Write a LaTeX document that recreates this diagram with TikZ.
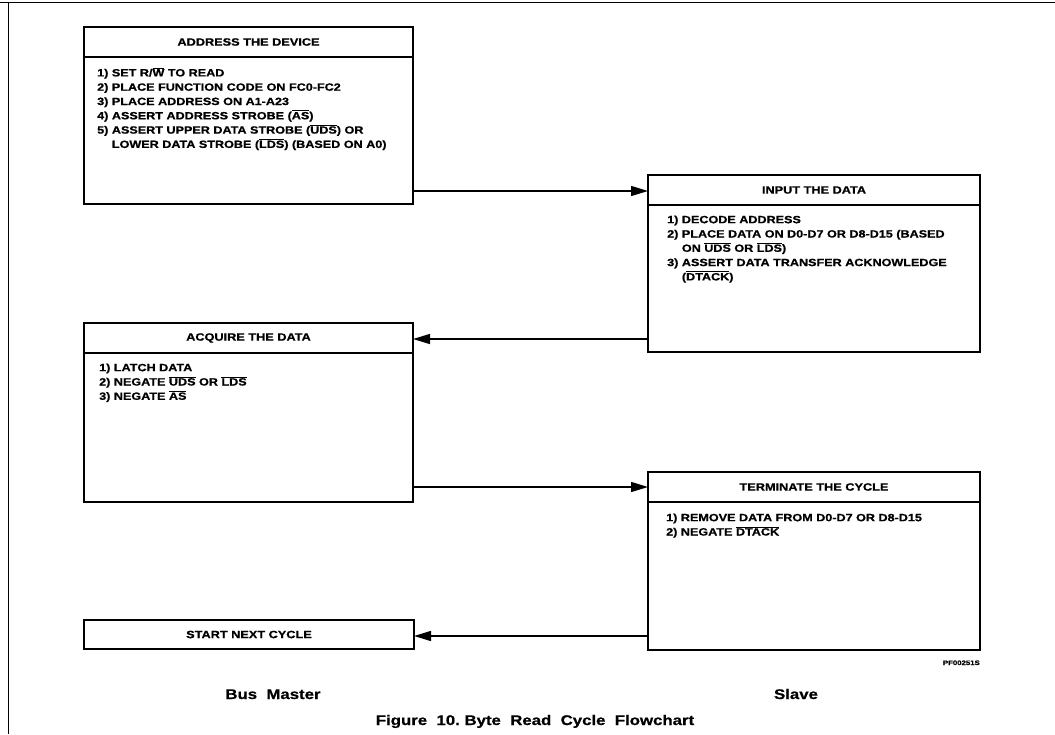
\documentclass[tikz,border=0pt]{standalone}
\usepackage{fontspec}
\usetikzlibrary{arrows.meta,calc}
\newfontfamily\hb{Liberation Sans}[FakeStretch=1.2,FakeBold=0.8]
\newcommand{\ovl}[1]{$\overline{\mbox{#1}}$}
\newcommand{\topstrut}{\rule{0pt}{9pt}}
\begin{document}
\begin{tikzpicture}[x=1pt,y=-1pt,
  box/.style={draw,line width=2.4pt,outer sep=0pt,inner sep=0pt,anchor=north west},
  divider/.style={line width=1.5pt},
  hdr/.style={font=\hb\bfseries\fontsize{10.6}{13}\selectfont,inner sep=0pt},
  body/.style={font=\hb\bfseries\fontsize{10.5}{14.3}\selectfont,inner sep=0pt,anchor=north west,align=left},
  arr/.style={line width=1.4pt,-{Triangle[length=17pt,width=10pt]}},
  lbl/.style={font=\hb\bfseries\fontsize{14}{16}\selectfont,inner sep=0pt,anchor=base}
]
\useasboundingbox (0,0) rectangle (1055,734);
% page frame
\draw[line width=1pt] (0,2) -- (1055,2);
\draw[line width=1pt] (8,2) -- (8,734);

% boxes
\node[box,minimum width=329pt,minimum height=177pt] (b1) at (84,27) {};
\node[box,minimum width=332pt,minimum height=177pt] (b2) at (648,175) {};
\node[box,minimum width=329pt,minimum height=179pt] (b3) at (84,323) {};
\node[box,minimum width=332pt,minimum height=178pt] (b4) at (648,472) {};
\node[box,minimum width=330pt,minimum height=29pt] (b5) at (84,620) {};

% header dividers
\foreach \b in {b1,b2,b3,b4}{
  \draw[divider] ($(\b.north west)+(0,30)$) -- ($(\b.north east)+(0,30)$);
}

% headers
\node[hdr] (h1) at ($(b1.north)+(0,15)$) {ADDRESS THE DEVICE};
\node[hdr] (h2) at ($(b2.north)+(0,15)$) {INPUT THE DATA};
\node[hdr] (h3) at ($(b3.north)+(0,15)$) {ACQUIRE THE DATA};
\node[hdr] (h4) at ($(b4.north)+(0,15)$) {TERMINATE THE CYCLE};
\node[hdr] (h5) at (b5.center) {START NEXT CYCLE};

% bodies
\node[body] (t1) at ($(b1.north west)+(13,40)$) {%
\topstrut 1) SET R/\ovl{W} TO READ\\
2) PLACE FUNCTION CODE ON FC0-FC2\\
3) PLACE ADDRESS ON A1-A23\\
4) ASSERT ADDRESS STROBE (\ovl{AS})\\
5) ASSERT UPPER DATA STROBE (\ovl{UDS}) OR\\
\phantom{5) }LOWER DATA STROBE (\ovl{LDS}) (BASED ON A0)};
\node[body] (t2) at ($(b2.north west)+(19,39)$) {%
\topstrut 1) DECODE ADDRESS\\
2) PLACE DATA ON D0-D7 OR D8-D15 (BASED\\
\phantom{2) }ON \ovl{UDS} OR \ovl{LDS})\\
3) ASSERT DATA TRANSFER ACKNOWLEDGE\\
\phantom{3) }(\ovl{DTACK})};
\node[body] (t3) at ($(b3.north west)+(15,39)$) {%
\topstrut 1) LATCH DATA\\
2) NEGATE \ovl{UDS} OR \ovl{LDS}\\
3) NEGATE \ovl{AS}};
\node[body] (t4) at ($(b4.north west)+(18,40)$) {%
\topstrut 1) REMOVE DATA FROM D0-D7 OR D8-D15\\
2) NEGATE \ovl{DTACK}};

% connectors
\coordinate (a1) at ($(b1.south east)+(0,-13)$);
\coordinate (a2) at ($(b2.south west)+(0,-13)$);
\coordinate (a3) at ($(b3.south east)+(0,-15)$);
\coordinate (a4) at ($(b4.south west)+(0,-14)$);
\draw[arr] (a1) -- (a1 -| b2.west);
\draw[arr] (a2) -- (a2 -| b3.east);
\draw[arr] (a3) -- (a3 -| b4.west);
\draw[arr] (a4) -- (a4 -| b5.east);

% labels
\node[font=\hb\bfseries\fontsize{6.5}{8}\selectfont,inner sep=0pt,anchor=base east] (pf) at (980,665) {PF00251S};
\node[lbl] (bm) at (273,699) {Bus\ \ Master};
\node[lbl] (sl) at (796,699) {Slave};
\node[lbl] (cap) at (535,725) {Figure\ \ 10.\ Byte\ \ Read\ \ Cycle\ \ Flowchart};
\end{tikzpicture}
\end{document}
